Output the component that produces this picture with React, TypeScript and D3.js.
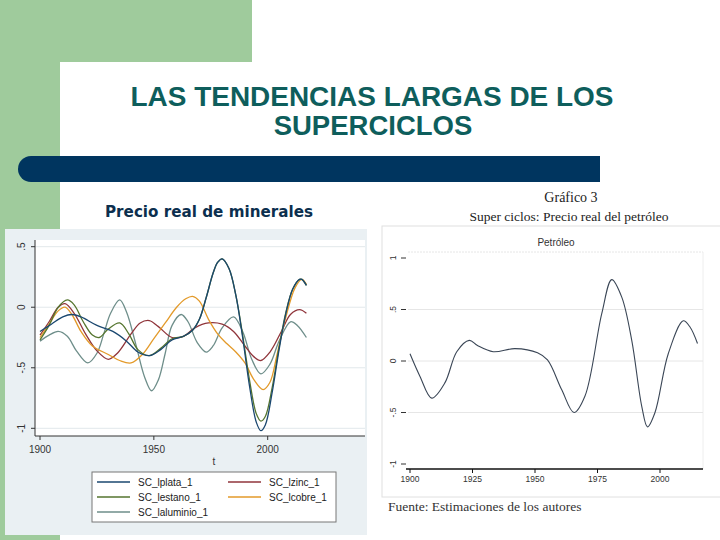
import React from "react";
import * as d3 from "d3";

type P = [number, number];

const plata: P[] = [[1900,-0.2],[1905,-0.14],[1910,-0.08],[1914,-0.06],[1918,-0.08],[1925,-0.15],[1932,-0.2],[1938,-0.28],[1943,-0.37],[1948,-0.4],[1953,-0.35],[1958,-0.27],[1963,-0.24],[1967,-0.19],[1970,-0.1],[1973,0.08],[1976,0.28],[1978,0.37],[1980,0.4],[1983,0.32],[1986,0.1],[1989,-0.25],[1992,-0.65],[1995,-0.95],[1997,-1.02],[1999,-0.97],[2002,-0.7],[2005,-0.35],[2008,-0.05],[2011,0.15],[2014,0.23],[2015,0.23],[2017,0.18]];
const estano: P[] = [[1900,-0.27],[1904,-0.15],[1908,0.0],[1912,0.06],[1915,0.02],[1919,-0.12],[1923,-0.23],[1926,-0.25],[1930,-0.18],[1935,-0.13],[1939,-0.22],[1943,-0.35],[1948,-0.4],[1953,-0.34],[1958,-0.26],[1963,-0.24],[1967,-0.19],[1970,-0.1],[1973,0.08],[1976,0.28],[1978,0.37],[1980,0.4],[1983,0.32],[1986,0.1],[1989,-0.23],[1992,-0.6],[1995,-0.88],[1997,-0.94],[1999,-0.9],[2002,-0.66],[2005,-0.33],[2008,-0.04],[2011,0.15],[2014,0.23],[2015,0.23],[2017,0.18]];
const zinc: P[] = [[1900,-0.23],[1904,-0.12],[1908,0.0],[1911,0.03],[1915,-0.05],[1920,-0.22],[1925,-0.36],[1930,-0.43],[1934,-0.38],[1940,-0.22],[1944,-0.13],[1948,-0.11],[1952,-0.16],[1958,-0.25],[1963,-0.24],[1968,-0.17],[1974,-0.13],[1980,-0.14],[1985,-0.2],[1990,-0.32],[1994,-0.41],[1997,-0.44],[2001,-0.37],[2006,-0.2],[2010,-0.06],[2014,-0.02],[2017,-0.05]];
const cobre: P[] = [[1900,-0.25],[1904,-0.14],[1908,-0.03],[1911,0.0],[1914,-0.06],[1918,-0.2],[1923,-0.32],[1930,-0.39],[1935,-0.44],[1940,-0.46],[1945,-0.39],[1950,-0.26],[1955,-0.13],[1960,0.0],[1964,0.07],[1967,0.09],[1970,0.05],[1974,-0.1],[1978,-0.22],[1982,-0.3],[1986,-0.37],[1990,-0.46],[1994,-0.6],[1998,-0.68],[2001,-0.62],[2004,-0.4],[2008,-0.08],[2012,0.16],[2015,0.23],[2017,0.19]];
const aluminio: P[] = [[1900,-0.28],[1904,-0.23],[1908,-0.2],[1912,-0.24],[1916,-0.36],[1921,-0.46],[1925,-0.38],[1928,-0.22],[1931,-0.05],[1935,0.06],[1938,-0.04],[1942,-0.3],[1946,-0.58],[1949,-0.69],[1952,-0.6],[1955,-0.38],[1958,-0.15],[1962,-0.06],[1965,-0.12],[1969,-0.29],[1973,-0.37],[1976,-0.32],[1980,-0.17],[1985,-0.08],[1989,-0.2],[1993,-0.43],[1997,-0.55],[2001,-0.47],[2005,-0.28],[2010,-0.12],[2013,-0.15],[2017,-0.25]];

const petroleo: P[] = [[1900,0.07],[1904,-0.15],[1908.7,-0.36],[1914,-0.21],[1918.7,0.09],[1923.7,0.2],[1927,0.15],[1933.3,0.09],[1942,0.12],[1951,0.08],[1955,0.01],[1960.7,-0.28],[1965.6,-0.5],[1970,-0.34],[1976.7,0.46],[1980.7,0.79],[1984.7,0.62],[1988.7,0.2],[1992.7,-0.44],[1995,-0.64],[1998,-0.5],[2003.3,0.07],[2009.3,0.39],[2012,0.33],[2015,0.17]];

const leftSeries = [
  { name: "SC_lplata_1", data: plata, color: "#1A476F" },
  { name: "SC_lzinc_1", data: zinc, color: "#90353B" },
  { name: "SC_lestano_1", data: estano, color: "#55752F" },
  { name: "SC_lcobre_1", data: cobre, color: "#E39A2A" },
  { name: "SC_laluminio_1", data: aluminio, color: "#6E8E8A" },
];
const leftDrawOrder = ["SC_laluminio_1", "SC_lzinc_1", "SC_lcobre_1", "SC_lestano_1", "SC_lplata_1"];

const leftYTicks = [0.5, 0, -0.5, -1];
const leftYLabels = [".5", "0", "-.5", "-1"];
const leftXTicks = [1900, 1950, 2000];
const rightYTicks = [1, 0.5, 0, -0.5, -1];
const rightYLabels = ["1", ".5", "0", "-.5", "-1"];
const rightXTicks = [1900, 1925, 1950, 1975, 2000];

export default function App() {
  const xL = d3.scaleLinear().domain([1900, 2000]).range([40, 267.7]);
  const yL = d3.scaleLinear().domain([-1, 0.5]).range([428.3, 246.7]);
  const xR = d3.scaleLinear().domain([1900, 2000]).range([410, 660]);
  const yR = d3.scaleLinear().domain([-1, 1]).range([464, 258]);

  const lineL = d3.line<P>().x((d) => xL(d[0])).y((d) => yL(d[1])).curve(d3.curveCatmullRom.alpha(0.5));
  const lineR = d3.line<P>().x((d) => xR(d[0])).y((d) => yR(d[1])).curve(d3.curveCatmullRom.alpha(0.5));

  const legendPos = [
    { x: 97, y: 482 },
    { x: 228, y: 482 },
    { x: 97, y: 497 },
    { x: 228, y: 497 },
    { x: 97, y: 512 },
  ];

  return (
    <div style={{ position: "absolute", left: 0, top: 0 }}>
      <svg width={720} height={540} style={{ display: "block", fontFamily: "Liberation Sans, Arial, sans-serif" }}>
        <rect x={0} y={0} width={720} height={540} fill="#ffffff" />
        <rect x={0} y={0} width={252} height={62} fill="#9FCB9C" />
        <rect x={0} y={0} width={60} height={540} fill="#9FCB9C" />
        <rect x={60} y={62} width={720} height={520} rx={16} fill="#ffffff" />

        <text x={372} y={106} textAnchor="middle" fontSize={27.5} fontWeight="bold" fill="#0E5E5C" textLength={483} lengthAdjust="spacingAndGlyphs">LAS TENDENCIAS LARGAS DE LOS</text>
        <text x={373} y={135} textAnchor="middle" fontSize={27.5} fontWeight="bold" fill="#0E5E5C">SUPERCICLOS</text>

        <rect x={18} y={156} width={582} height={26} rx={13} fill="#00355F" />
        <rect x={300} y={156} width={300} height={26} fill="#00355F" />

        <text x={105} y={217} fontSize={15} fontWeight="bold" fontFamily="DejaVu Sans, Verdana, sans-serif" fill="#0C2F4E" textLength={208} lengthAdjust="spacingAndGlyphs">Precio real de minerales</text>

        {/* Left chart */}
        <rect x={5} y={229} width={362} height={306} fill="#EAF0F3" />
        <rect x={35} y={240} width={330} height={196} fill="#ffffff" />
        {leftYTicks.map((t) => (
          <line key={"g" + t} x1={35} x2={365} y1={yL(t)} y2={yL(t)} stroke="#E2E8EB" strokeWidth={1} />
        ))}
        <line x1={35} x2={35} y1={240} y2={436} stroke="#333" strokeWidth={1} />
        <line x1={35} x2={365} y1={436} y2={436} stroke="#333" strokeWidth={1} />
        {leftYTicks.map((t, i) => (
          <g key={"yl" + t}>
            <line x1={31} x2={35} y1={yL(t)} y2={yL(t)} stroke="#333" />
            <text transform={`translate(${25},${yL(t)}) rotate(-90)`} textAnchor="middle" fontSize={10} fill="#333">{leftYLabels[i]}</text>
          </g>
        ))}
        {leftXTicks.map((t) => (
          <g key={"xl" + t}>
            <line x1={xL(t)} x2={xL(t)} y1={436} y2={440} stroke="#333" />
            <text x={xL(t)} y={453} textAnchor="middle" fontSize={10} fill="#333">{t}</text>
          </g>
        ))}
        <text x={214} y={465} textAnchor="middle" fontSize={10} fill="#333">t</text>
        {leftDrawOrder.map((n) => {
          const s = leftSeries.find((q) => q.name === n)!;
          return <path key={n} d={lineL(s.data) || ""} fill="none" stroke={s.color} strokeWidth={1.3} />;
        })}
        <rect x={92} y={472} width={244} height={50} fill="#ffffff" stroke="#777" strokeWidth={1} />
        {leftSeries.map((s, i) => (
          <g key={"lg" + s.name}>
            <line x1={legendPos[i].x} x2={legendPos[i].x + 33} y1={legendPos[i].y} y2={legendPos[i].y} stroke={s.color} strokeWidth={1.3} />
            <text x={legendPos[i].x + 41} y={legendPos[i].y + 3.5} fontSize={10} fill="#222">{s.name}</text>
          </g>
        ))}

        {/* Right chart */}
        <text x={571} y={202} textAnchor="middle" fontSize={14} fontFamily="Liberation Serif, serif" fill="#222">Gráfico 3</text>
        <text x={569} y={221} textAnchor="middle" fontSize={13.5} fontFamily="Liberation Serif, serif" fill="#222">Super ciclos: Precio real del petróleo</text>
        <rect x={382} y={226} width={345} height={271} fill="#ffffff" stroke="#E0E0E0" strokeWidth={1} />
        <text x={556} y={246} textAnchor="middle" fontSize={10} fill="#333">Petróleo</text>
        <line x1={408} x2={703} y1={252} y2={252} stroke="#E6E6E6" strokeWidth={1} strokeDasharray="2,1" />
        <line x1={703} x2={703} y1={252} y2={469} stroke="#EEEEEE" strokeWidth={1} />
        {rightYTicks.map((t, i) => (
          <g key={"ry" + t}>
            {t !== 1 && t !== -1 ? (
              <line x1={408} x2={703} y1={yR(t)} y2={yR(t)} stroke="#E6E6E6" strokeWidth={1} />
            ) : null}
            <line x1={401} x2={406} y1={yR(t)} y2={yR(t)} stroke="#333" />
            <text transform={`translate(${396},${yR(t)}) rotate(-90)`} textAnchor="middle" fontSize={8.5} fill="#333">{rightYLabels[i]}</text>
          </g>
        ))}
        <line x1={406} x2={703} y1={469} y2={469} stroke="#111" strokeWidth={1.3} />
        {rightXTicks.map((t) => (
          <g key={"rx" + t}>
            <line x1={xR(t)} x2={xR(t)} y1={469} y2={473} stroke="#111" />
            <text x={xR(t)} y={482} textAnchor="middle" fontSize={8.5} fill="#333">{t}</text>
          </g>
        ))}
        <path d={lineR(petroleo) || ""} fill="none" stroke="#3A4656" strokeWidth={1.1} />
        <text x={388} y={511} fontSize={13.5} fontFamily="Liberation Serif, serif" fill="#333">Fuente: Estimaciones de los autores</text>
      </svg>
    </div>
  );
}
